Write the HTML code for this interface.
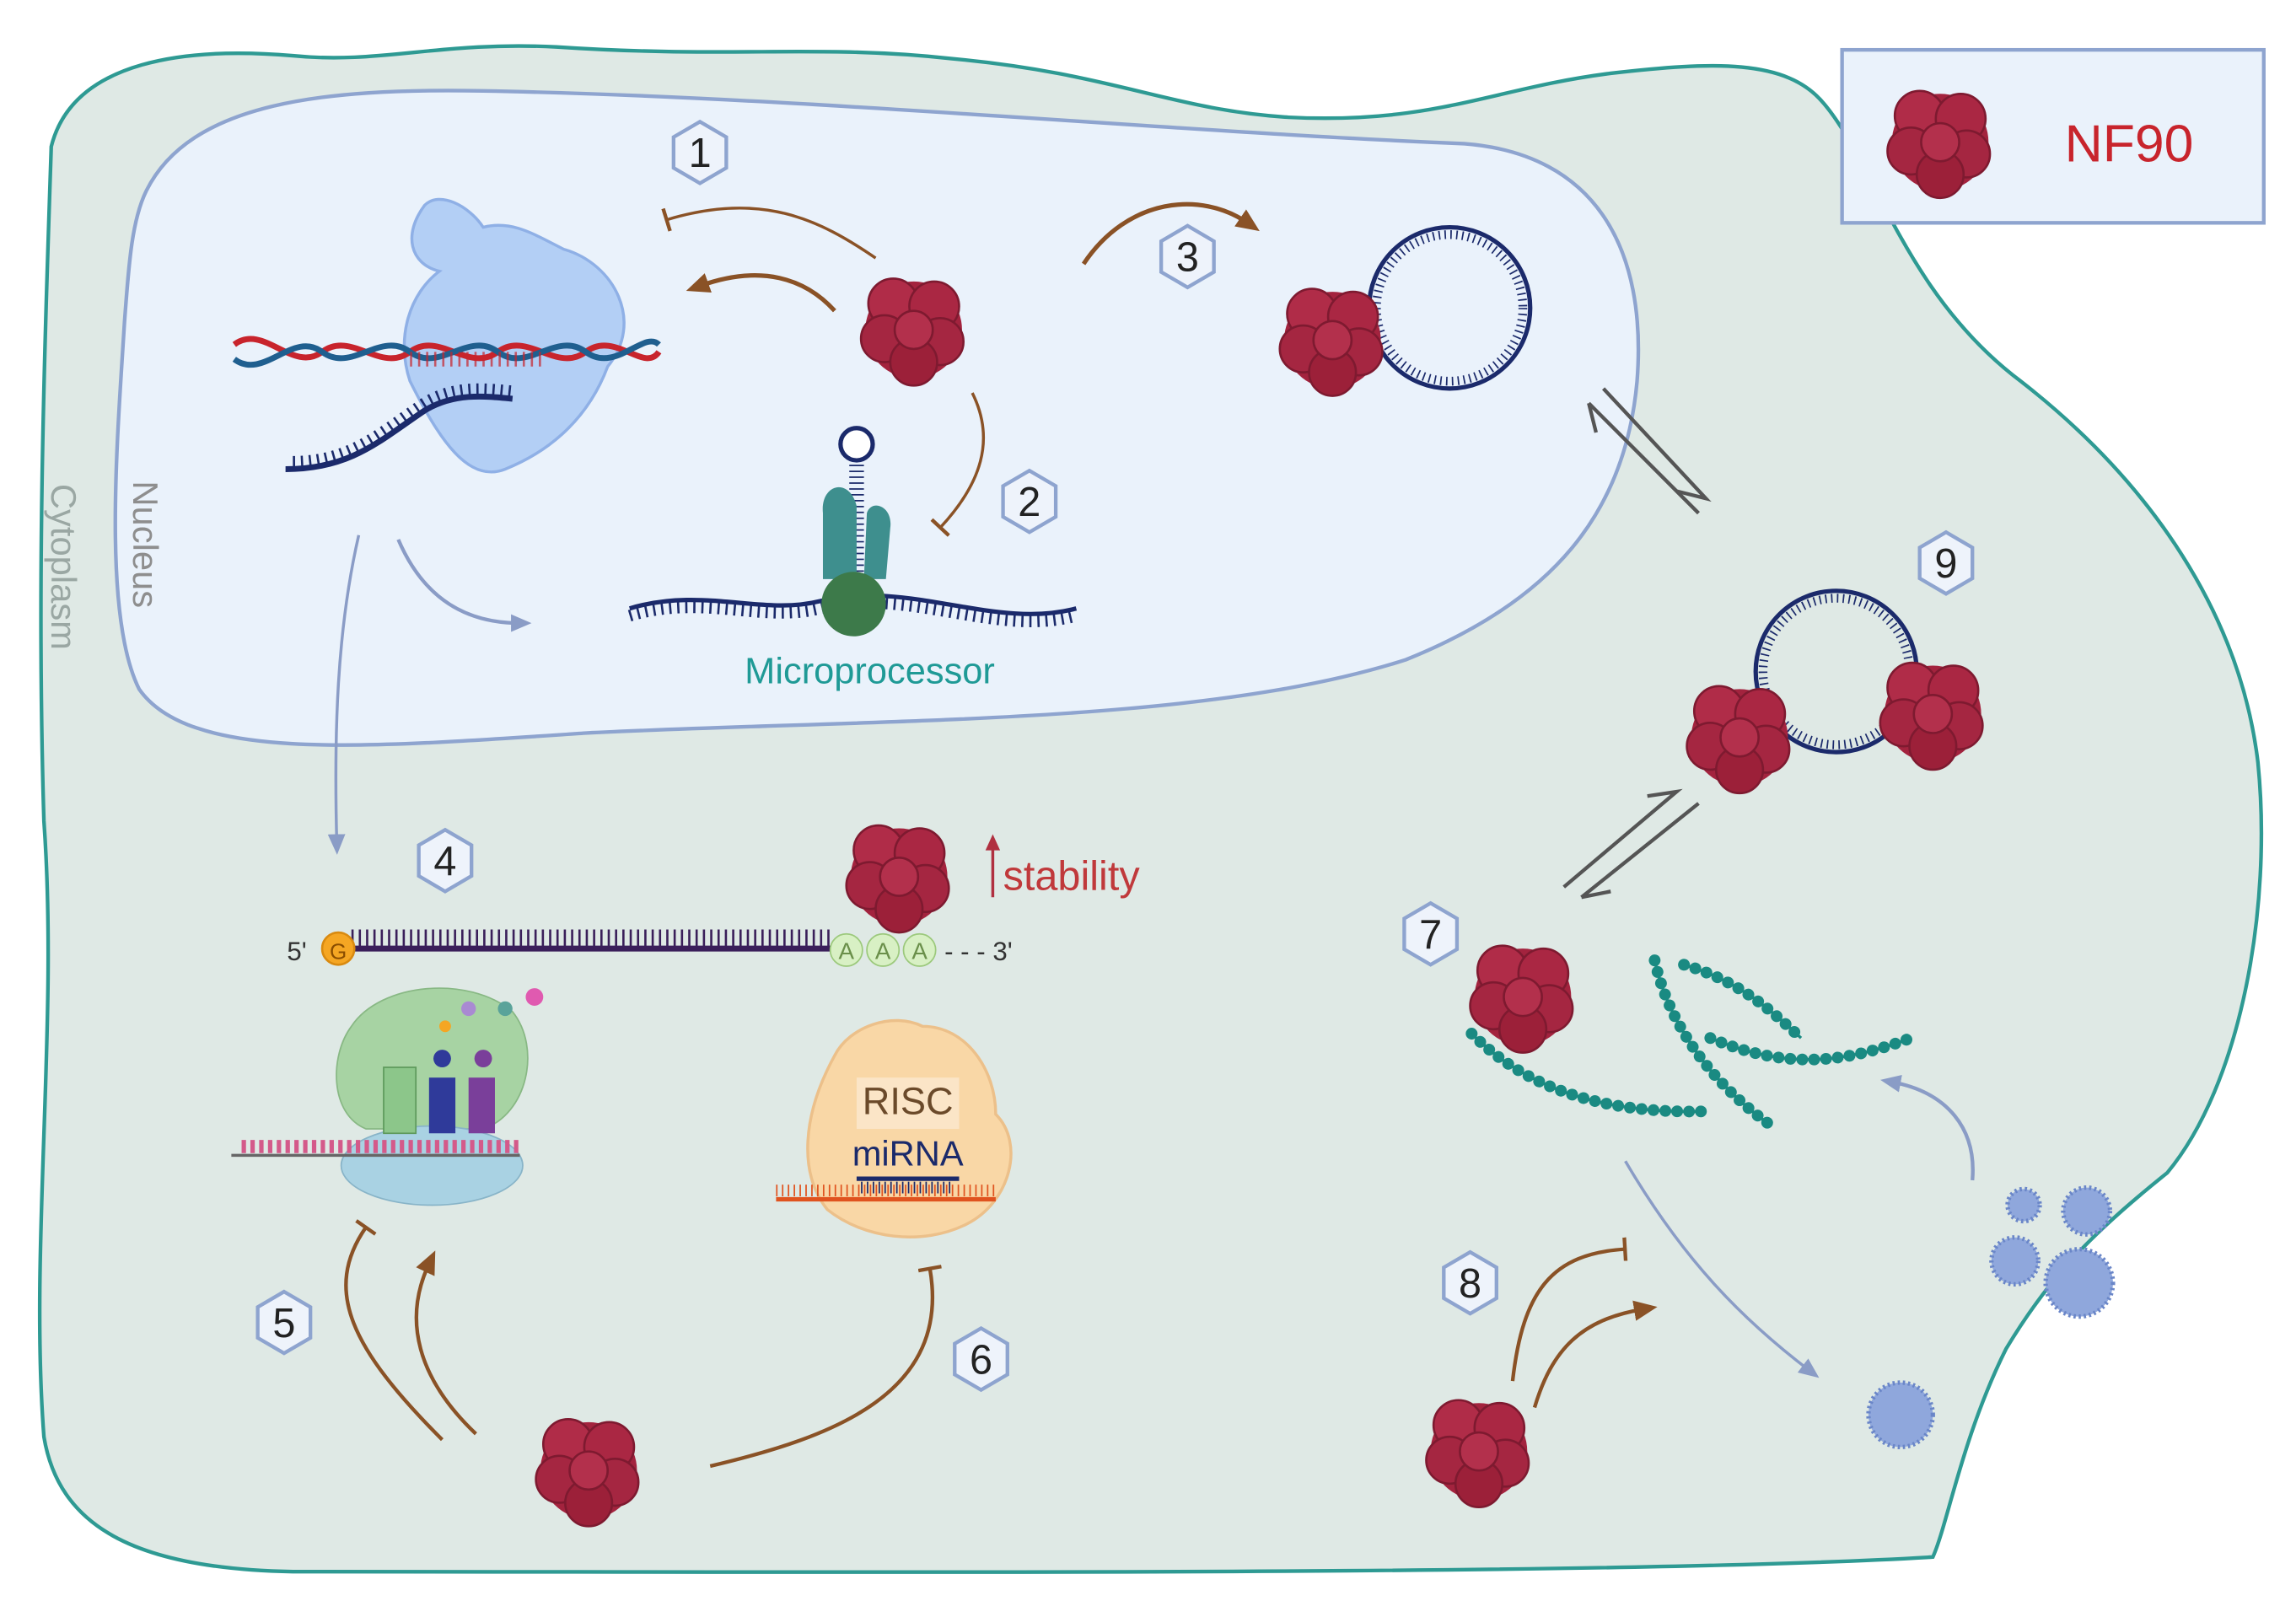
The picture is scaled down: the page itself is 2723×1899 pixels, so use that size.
<!DOCTYPE html>
<html><head><meta charset="utf-8"><style>
html,body{margin:0;padding:0;background:#fff;}
svg{display:block;}
text{font-family:"Liberation Sans",sans-serif;}
</style></head><body>
<svg width="2723" height="1899" viewBox="0 0 1568 1092" preserveAspectRatio="none" xmlns="http://www.w3.org/2000/svg">
<defs>
<g id="nf">
<circle cx="0" cy="0" r="33" fill="#a3233e"/>
<circle cx="-14" cy="-18" r="17" fill="#b02c48" stroke="#7e1a30" stroke-width="1.5"/>
<circle cx="14" cy="-16" r="17" fill="#aa2743" stroke="#7e1a30" stroke-width="1.5"/>
<circle cx="-20" cy="6" r="16" fill="#a52641" stroke="#7e1a30" stroke-width="1.5"/>
<circle cx="18" cy="8" r="16" fill="#a52641" stroke="#7e1a30" stroke-width="1.5"/>
<circle cx="0" cy="22" r="16" fill="#9c2039" stroke="#7e1a30" stroke-width="1.5"/>
<circle cx="0" cy="0" r="13" fill="#b3304c" stroke="#7e1a30" stroke-width="1.5"/>
</g>
<g id="hex"><polygon points="0,-21 18,-10.5 18,10.5 0,21 -18,10.5 -18,-10.5" fill="#eef3fb" stroke="#8ea4cf" stroke-width="2.5"/></g>
<marker id="ab" markerWidth="16" markerHeight="14" refX="6" refY="7" orient="auto" markerUnits="userSpaceOnUse"><path d="M0,0 L16,7 L0,14 Z" fill="#8a5226"/></marker>
<marker id="ag" markerWidth="14" markerHeight="12" refX="6" refY="6" orient="auto" markerUnits="userSpaceOnUse"><path d="M0,0 L14,6 L0,12 Z" fill="#8a9cc6"/></marker>
<marker id="tb" markerWidth="4" markerHeight="16" refX="2" refY="8" orient="auto" markerUnits="userSpaceOnUse"><rect x="0.5" y="0" width="2.5" height="16" fill="#8a5226"/></marker>
</defs>
<rect width="1568" height="1092" fill="#fff"/>
<!-- cell -->
<path d="M35,100 C50,40 130,32 200,38 C260,44 300,28 380,32 C500,40 560,30 650,40 C760,50 800,75 880,80 C980,85 1020,60 1100,50 C1170,42 1220,40 1245,70 C1280,110 1300,200 1380,260 C1470,330 1530,420 1542,520 C1552,620 1530,740 1480,800 C1430,840 1400,870 1370,920 C1340,980 1330,1040 1320,1062 C1100,1075 600,1072 200,1072 C90,1070 40,1040 30,980 C20,850 40,700 30,560 C25,400 30,250 35,100 Z" fill="#dfe9e5" stroke="#2e9a93" stroke-width="2.5"/>
<!-- nucleus -->
<path d="M100,130 C130,70 220,60 330,62 C550,66 800,90 1000,98 C1090,105 1125,170 1118,260 C1110,350 1060,410 960,450 C820,495 600,490 400,500 C250,510 130,520 95,470 C70,420 80,300 85,220 C88,180 90,150 100,130 Z" fill="#eaf2fb" stroke="#8ea4cf" stroke-width="2.5"/>
<text x="0" y="0" transform="translate(91,328) rotate(90)" font-size="24" fill="#8e8e8e">Nucleus</text>
<text x="0" y="0" transform="translate(35,330) rotate(90)" font-size="24" fill="#9aa7a3">Cytoplasm</text>
<!-- legend -->
<rect x="1258" y="34" width="288" height="118" fill="#eaf2fb" stroke="#8ea4cf" stroke-width="2.5"/>
<use href="#nf" x="1325" y="97"/>
<text x="1410" y="110" font-size="36" fill="#c8242c">NF90</text>
<!-- DNA / polymerase -->
<path d="M290,140 C275,160 280,180 300,185 C280,200 270,230 280,260 C300,300 320,330 345,320 C370,310 400,290 415,250 C440,220 420,180 385,170 C365,160 350,150 330,155 C320,140 300,130 290,140Z" fill="#b3cff5" stroke="#8fb0e6" stroke-width="2"/>
<path d="M160,235 C180,220 200,255 220,240 C240,225 260,255 280,240 C300,225 320,255 340,240 C360,225 380,255 400,240 C420,225 440,255 450,240" fill="none" stroke="#c8242c" stroke-width="4"/>
<path d="M160,245 C180,260 200,225 220,240 C240,255 260,225 280,240 C300,255 320,225 340,240 C360,255 380,225 400,240 C420,255 440,225 450,235" fill="none" stroke="#1f5f8f" stroke-width="4"/>
<path d="M280,245 L370,245" stroke="#c8242c" stroke-width="10" stroke-dasharray="1.5 4" opacity="0.7"/>
<path d="M195,320 C240,320 260,300 290,280 C310,268 330,270 350,272" fill="none" stroke="#1b2a6b" stroke-width="4"/>
<path d="M200,315 C240,315 260,295 290,275 C310,263 330,265 350,267" fill="none" stroke="#1b2a6b" stroke-width="8" stroke-dasharray="1.5 4"/>
<!-- arrows nucleus -->
<path d="M598,176 C560,150 520,130 455,150" fill="none" stroke="#8a5226" stroke-width="2" marker-end="url(#tb)"/>
<path d="M570,212 C550,190 520,180 478,195" fill="none" stroke="#8a5226" stroke-width="3" marker-end="url(#ab)"/>
<path d="M664,268 C680,300 670,330 642,360" fill="none" stroke="#8a5226" stroke-width="2" marker-end="url(#tb)"/>
<path d="M740,180 C770,135 820,130 852,152" fill="none" stroke="#8a5226" stroke-width="3" marker-end="url(#ab)"/>
<use href="#hex" x="478" y="104"/><text x="478" y="114" font-size="28" text-anchor="middle" fill="#222">1</text>
<use href="#hex" x="703" y="342"/><text x="703" y="352" font-size="28" text-anchor="middle" fill="#222">2</text>
<use href="#hex" x="811" y="175"/><text x="811" y="185" font-size="28" text-anchor="middle" fill="#222">3</text>
<use href="#nf" x="624" y="225"/>
<!-- circRNA 3 -->
<circle cx="990" cy="210" r="55" fill="none" stroke="#1b2a6b" stroke-width="3"/>
<circle cx="990" cy="210" r="50" fill="none" stroke="#1b2a6b" stroke-width="6" stroke-dasharray="1 3"/>
<use href="#nf" x="910" y="232"/>
<!-- microprocessor -->
<path d="M430,415 C480,400 520,420 560,410 C620,395 680,430 735,415" fill="none" stroke="#1b2a6b" stroke-width="3"/>
<path d="M430,420 C480,405 520,425 560,415 C620,400 680,435 735,420" fill="none" stroke="#1b2a6b" stroke-width="8" stroke-dasharray="1.5 4"/>
<line x1="585" y1="305" x2="585" y2="400" stroke="#1b2a6b" stroke-width="10" stroke-dasharray="1 3"/>
<circle cx="585" cy="303" r="11" fill="#fff" stroke="#1b2a6b" stroke-width="3"/>
<path d="M562,350 C560,330 580,325 585,345 L585,395 L562,395Z" fill="#3e8f8e"/>
<path d="M592,350 C595,340 610,345 608,360 L605,395 L590,395Z" fill="#3e8f8e"/>
<circle cx="583" cy="412" r="22" fill="#3d7a4a"/>
<text x="594" y="466" font-size="25" text-anchor="middle" fill="#1f9a96">Microprocessor</text>
<!-- gray arrows -->
<path d="M245,365 C230,430 228,500 230,575" fill="none" stroke="#8a9cc6" stroke-width="2" marker-end="url(#ag)"/>
<path d="M272,368 C290,410 320,425 355,425" fill="none" stroke="#8a9cc6" stroke-width="2.5" marker-end="url(#ag)"/>
<!-- equilibrium arrows -->
<path d="M1085,275 L1160,350 M1085,275 L1090,295" fill="none" stroke="#555" stroke-width="2.5"/>
<path d="M1095,265 L1165,340 L1145,335" fill="none" stroke="#555" stroke-width="2.5"/>
<path d="M1068,605 L1145,540 L1125,543" fill="none" stroke="#555" stroke-width="2.5"/>
<path d="M1080,612 L1160,548 M1080,612 L1100,608" fill="none" stroke="#555" stroke-width="2.5"/>
<!-- 9 -->
<use href="#hex" x="1329" y="384"/><text x="1329" y="394" font-size="28" text-anchor="middle" fill="#222">9</text>
<circle cx="1254" cy="458" r="55" fill="none" stroke="#1b2a6b" stroke-width="3"/>
<circle cx="1254" cy="458" r="50" fill="none" stroke="#1b2a6b" stroke-width="6" stroke-dasharray="1 3"/>
<use href="#nf" x="1188" y="503"/>
<use href="#nf" x="1320" y="487"/>
<!-- 4 mRNA -->
<use href="#hex" x="304" y="587"/><text x="304" y="597" font-size="28" text-anchor="middle" fill="#222">4</text>
<text x="196" y="655" font-size="18" fill="#333">5'</text>
<line x1="240" y1="647" x2="570" y2="647" stroke="#3a1f5a" stroke-width="4"/>
<line x1="240" y1="640" x2="570" y2="640" stroke="#3a1f5a" stroke-width="12" stroke-dasharray="1.5 3.5"/>
<circle cx="231" cy="647" r="11" fill="#f5a623" stroke="#d98a10" stroke-width="1.5"/>
<text x="231" y="654" font-size="15" text-anchor="middle" fill="#8a4d00">G</text>
<g font-size="16" text-anchor="middle" fill="#6a8f4a">
<circle cx="578" cy="648" r="11" fill="#d8f0c4" stroke="#9cc97c"/><text x="578" y="654">A</text>
<circle cx="603" cy="648" r="11" fill="#d8f0c4" stroke="#9cc97c"/><text x="603" y="654">A</text>
<circle cx="628" cy="648" r="11" fill="#d8f0c4" stroke="#9cc97c"/><text x="628" y="654">A</text>
</g>
<text x="645" y="655" font-size="18" fill="#333">- - - 3'</text>
<use href="#nf" x="614" y="598"/>
<line x1="678" y1="612" x2="678" y2="575" stroke="#b03040" stroke-width="2"/>
<path d="M673,580 L678,569 L683,580Z" fill="#b03040"/>
<text x="685" y="607" font-size="28" fill="#c0393b">stability</text>
<!-- ribosome -->
<path d="M240,700 C260,670 320,665 350,690 C370,715 360,760 330,770 L250,770 C225,760 225,720 240,700Z" fill="#a7d3a3" stroke="#88b884"/>
<ellipse cx="295" cy="795" rx="62" ry="27" fill="#a9d2e3" stroke="#88b4c8"/>
<rect x="262" y="728" width="22" height="45" fill="#8cc68a" stroke="#5e9a5c"/>
<rect x="293" y="735" width="18" height="38" fill="#2f3a9a"/>
<rect x="320" y="735" width="18" height="38" fill="#7a3f9a"/>
<circle cx="302" cy="722" r="6" fill="#2f3a9a"/><circle cx="330" cy="722" r="6" fill="#7a3f9a"/>
<line x1="158" y1="788" x2="355" y2="788" stroke="#666" stroke-width="2"/>
<line x1="165" y1="782" x2="355" y2="782" stroke="#d45a8a" stroke-width="9" stroke-dasharray="3 3"/>
<circle cx="320" cy="688" r="5" fill="#a98ad2"/><circle cx="345" cy="688" r="5" fill="#5aa39a"/><circle cx="365" cy="680" r="6" fill="#e05ab0"/><circle cx="304" cy="700" r="4" fill="#f5a623"/>
<!-- RISC -->
<path d="M570,720 C580,700 610,690 630,700 C660,700 680,730 680,760 C700,780 690,820 660,835 C630,850 590,845 565,825 C545,800 548,760 570,720Z" fill="#f9d7a6" stroke="#ecc08a" stroke-width="2"/>
<rect x="585" y="735" width="70" height="35" fill="#fbe8cf" opacity="0.8"/>
<text x="620" y="760" font-size="26" text-anchor="middle" fill="#6b4a2a">RISC</text>
<text x="620" y="795" font-size="24" text-anchor="middle" fill="#1b2a6b">miRNA</text>
<line x1="530" y1="818" x2="680" y2="818" stroke="#e0531f" stroke-width="3"/>
<line x1="530" y1="812" x2="680" y2="812" stroke="#e0531f" stroke-width="8" stroke-dasharray="1 3"/>
<line x1="585" y1="804" x2="655" y2="804" stroke="#1b2a6b" stroke-width="3"/>
<line x1="588" y1="810" x2="652" y2="810" stroke="#1b2a6b" stroke-width="8" stroke-dasharray="1 3"/>
<!-- 5,6 -->
<use href="#nf" x="402" y="1003"/>
<path d="M302,982 C240,920 220,880 250,837" fill="none" stroke="#8a5226" stroke-width="2.5" marker-end="url(#tb)"/>
<path d="M325,978 C285,940 275,900 293,862" fill="none" stroke="#8a5226" stroke-width="2.5" marker-end="url(#ab)"/>
<path d="M485,1000 C570,980 650,950 635,865" fill="none" stroke="#8a5226" stroke-width="2.5" marker-end="url(#tb)"/>
<use href="#hex" x="194" y="902"/><text x="194" y="912" font-size="28" text-anchor="middle" fill="#222">5</text>
<use href="#hex" x="670" y="927"/><text x="670" y="937" font-size="28" text-anchor="middle" fill="#222">6</text>
<!-- 7 -->
<use href="#hex" x="977" y="637"/><text x="977" y="647" font-size="28" text-anchor="middle" fill="#222">7</text>
<g fill="none" stroke="#1a8a82" stroke-width="8" stroke-dasharray="0.1 8" stroke-linecap="round">
<path d="M1005,705 C1040,740 1090,760 1165,758"/>
<path d="M1130,655 C1140,700 1170,740 1210,768"/>
<path d="M1150,658 C1190,670 1210,690 1230,708"/>
<path d="M1168,708 C1220,730 1260,725 1305,708"/>
</g>
<g fill="none" stroke="#1a8a82" stroke-width="2">
<path d="M1005,705 C1040,740 1090,760 1165,758"/>
<path d="M1130,655 C1140,700 1170,740 1210,768"/>
<path d="M1150,658 C1190,670 1210,690 1230,708"/>
<path d="M1168,708 C1220,730 1260,725 1305,708"/>
</g>
<use href="#nf" x="1040" y="680"/>
<!-- 8 -->
<use href="#hex" x="1004" y="875"/><text x="1004" y="885" font-size="28" text-anchor="middle" fill="#222">8</text>
<use href="#nf" x="1010" y="990"/>
<path d="M1033,942 C1040,880 1060,855 1110,852" fill="none" stroke="#8a5226" stroke-width="2.5" marker-end="url(#tb)"/>
<path d="M1048,960 C1060,920 1080,900 1122,893" fill="none" stroke="#8a5226" stroke-width="2.5" marker-end="url(#ab)"/>
<path d="M1110,792 C1150,860 1190,900 1236,935" fill="none" stroke="#8a9cc6" stroke-width="2" marker-end="url(#ag)"/>
<path d="M1347,805 C1350,770 1330,745 1292,738" fill="none" stroke="#8a9cc6" stroke-width="2.5" marker-end="url(#ag)"/>
<!-- viruses -->
<g fill="#8fa7dc" stroke="#6a86c8" stroke-width="3" stroke-dasharray="1.5 2">
<circle cx="1298" cy="965" r="22"/>
<circle cx="1382" cy="822" r="11"/>
<circle cx="1425" cy="826" r="16"/>
<circle cx="1376" cy="860" r="16"/>
<circle cx="1420" cy="875" r="23"/>
</g>
</svg>
</body></html>
